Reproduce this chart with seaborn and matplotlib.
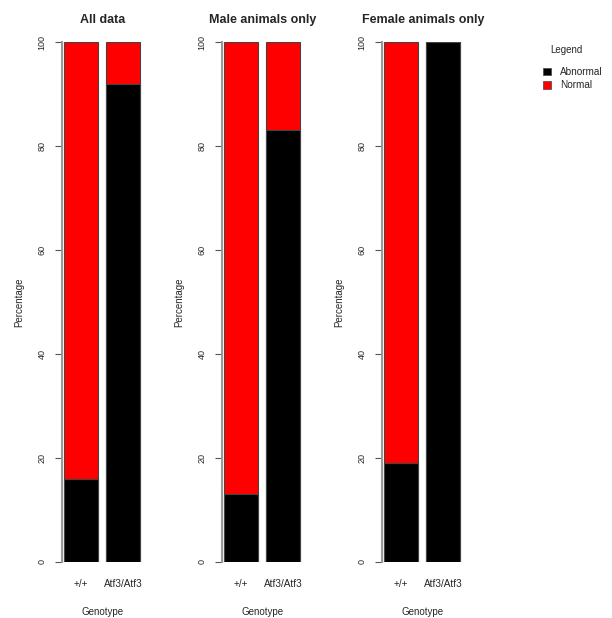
import matplotlib
import pandas as pd
import seaborn as sns
from matplotlib.patches import Patch

matplotlib.use("Agg")
import matplotlib.pyplot as plt

genotypes = ["+/+", "Atf3/Atf3"]
panel_titles = ["All data", "Male animals only", "Female animals only"]
abnormal_pct = [[16, 92], [13, 83], [19, 100]]
normal_pct = [[84, 8], [87, 17], [81, 0]]
legend_labels = ["Abnormal", "Normal"]
legend_colors = ["black", "red"]

sns.set_style("white")
plt.rcParams["font.family"] = ["Liberation Sans", "DejaVu Sans"]

W, H = 612, 618
fig = plt.figure(figsize=(W / 100, H / 100), dpi=100)

for i, title in enumerate(panel_titles):
    left = 62 + 160 * i
    ax = fig.add_axes([left / W, 56 / H, 82 / W, 520 / H])
    df = pd.DataFrame(
        {"Genotype": genotypes, "Abnormal": abnormal_pct[i], "Normal": normal_pct[i]}
    )
    df["Total"] = df["Abnormal"] + df["Normal"]
    # stacked bars: full-height red (Normal) bar, Abnormal drawn over it in black
    sns.barplot(data=df, x="Genotype", y="Total", color="red", saturation=1,
                width=0.81, edgecolor="#444444", linewidth=0.8, ax=ax)
    sns.barplot(data=df, x="Genotype", y="Abnormal", color="black", saturation=1,
                width=0.81, edgecolor="#444444", linewidth=0.8, ax=ax)
    ax.set_xlim(-0.45, 1.5)
    ax.set_ylim(0, 100)
    ax.set_yticks([0, 20, 40, 60, 80, 100])
    ax.set_yticklabels(["0", "20", "40", "60", "80", "100"], rotation=90, va="center")
    for s in ["top", "right", "bottom"]:
        ax.spines[s].set_visible(False)
    ax.spines["left"].set_color("#999999")
    ax.spines["left"].set_linewidth(1.5)
    ax.tick_params(axis="y", left=True, length=5, width=0.8, color="#555555",
                   labelsize=6.5, pad=6)
    ax.tick_params(axis="x", bottom=False, labelsize=7.2, pad=9)
    ax.set_xlabel("Genotype", fontsize=7, labelpad=13)
    ax.set_ylabel("Percentage", fontsize=7, labelpad=10)
    ax.set_title(title, fontsize=9, fontweight="bold", pad=14)

handles = [Patch(facecolor=c, edgecolor="#444444", linewidth=0.5) for c in legend_colors]
fig.text(566 / W, 1 - 50 / H, "Legend", fontsize=7, ha="center", va="center")
fig.legend(handles, legend_labels, loc="upper left",
           bbox_to_anchor=(538 / W, 1 - 62 / H), frameon=False, fontsize=7.2,
           handlelength=0.8, handleheight=0.8,
           handletextpad=0.9, labelspacing=0.35, borderpad=0)

fig.savefig("out.png", dpi=100)
